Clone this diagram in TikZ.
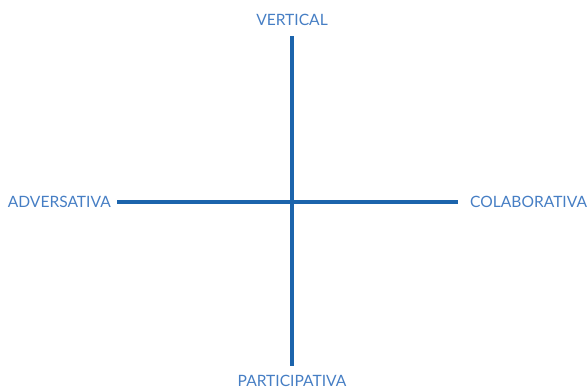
\documentclass[tikz,border=0pt]{standalone}
\usepackage{fontspec}
\setmainfont{Lato}
\usetikzlibrary{positioning}
\definecolor{AxisBlue}{RGB}{28,100,172}
\definecolor{LabelBlue}{RGB}{70,126,196}

\begin{document}
\begin{tikzpicture}[x=0.03cm,y=-0.03cm]
                    \useasboundingbox (0,0) rectangle (587,389);
                    \coordinate (top) at (292,36);
                    \coordinate (bottom) at (292,366);
                    \coordinate (left) at (117,202);
                    \coordinate (right) at (458,202);
                    \draw[AxisBlue, line width=2.8pt] (top) -- (bottom);
                    \draw[AxisBlue, line width=2.8pt] (left) -- (right);
                    \node[LabelBlue, font=\fontsize{13.3}{15}\selectfont] (vertical) at (292,20) {VERTICAL};
                    \node[LabelBlue, font=\fontsize{13.3}{15}\selectfont, anchor=east, inner sep=0pt] (adversativa) at (111,202) {ADVERSATIVA};
                    \node[LabelBlue, font=\fontsize{13.3}{15}\selectfont, anchor=west, inner sep=0pt] (colaborativa) at (470,202) {COLABORATIVA};
                    \node[LabelBlue, font=\fontsize{13.3}{15}\selectfont] (participativa) at (292,381) {PARTICIPATIVA};
                \end{tikzpicture}
\end{document}
